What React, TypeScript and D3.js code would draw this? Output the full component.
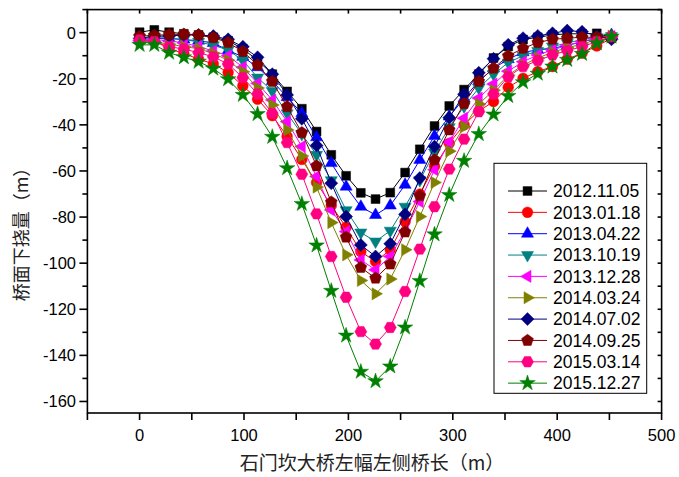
import React, { useEffect, useRef } from 'react';
import * as d3 from 'd3';

// chainage of the measuring points along the bridge (m)
const stations = [
  0, 14.1, 28.3, 42.4, 56.5, 70.6, 84.8, 98.9, 113, 127.1, 141.3, 155.4, 169.5, 183.6, 197.8, 211.9,
  226, 240.1, 254.3, 268.4, 282.5, 296.6, 310.8, 324.9, 339, 353.1, 367.3, 381.4, 395.5, 409.6, 423.8,
  437.9, 452,
];

const s20121105 = [
  0.2, 1.2, 0.2, -0.5, -1, -2, -3.5, -7, -12, -18, -25.5, -33, -42.9, -53, -62.1, -69.5, -72.2, -69.4,
  -60.7, -50.6, -40.5, -31.8, -24.7, -18, -11, -6, -3, -2, -1, -0.5, -0.5, -0.3, -2,
];
const s20130118 = [
  -3.5, -3.5, -7, -9, -11.5, -13.5, -17.3, -23.1, -28.9, -36, -45, -55, -65, -75, -84.4, -95, -99.3,
  -94.2, -82, -70, -58, -48, -40, -34, -29.9, -23.7, -19.8, -16.9, -14.7, -11.5, -8.9, -5.8, -2.5,
];
const s20130422 = [
  -3, -2.5, -2.5, -3, -3.5, -4.5, -7.7, -10.5, -15, -21, -28, -35, -45.4, -56.6, -66.8, -75.5, -79.1,
  -75, -66, -55.2, -44.8, -36.4, -28.5, -21, -15.5, -11.5, -8.5, -7.5, -6.8, -5.5, -4, -2.5, -1,
];
const s20131019 = [
  -2.5, -2, -2.5, -3, -4, -5.5, -7.5, -12, -19.5, -25.3, -35, -44, -53, -64, -77, -86.7, -90.6, -85.9,
  -75.5, -64, -52, -41, -32, -24, -18, -13, -10, -8, -6, -4.5, -3, -2, -1.5,
];
const s20131228 = [
  -3.5, -3, -3.5, -4.5, -6, -8, -10, -15, -22, -29.2, -38.6, -49.4, -62.4, -76.9, -86.3, -98.6, -102.9,
  -97.1, -86, -73.3, -59.5, -47.5, -37.1, -28.4, -22.3, -16.7, -12.6, -9.7, -7.5, -5.5, -3.8, -2.5, -1.7,
];
const s20140324 = [
  -4, -4, -5, -6, -7, -9, -12, -17, -24, -31.4, -42.2, -53.5, -67, -82.4, -96.4, -107.5, -113.3,
  -106.9, -94.2, -79.8, -65, -51.4, -40.8, -31, -25, -18.5, -14, -11, -8.5, -6.5, -5, -3, -1.5,
];
const s20140702 = [
  -2.5, -1.5, -1.5, -1, -1, -1.5, -2.9, -6.1, -10.7, -18, -27, -37.4, -49, -65.3, -79.8, -92.1, -97.1,
  -91.6, -78.8, -63.1, -49.4, -36.9, -26.7, -17.4, -11.3, -5.3, -2.4, -1.4, -0.3, 0.9, 0.4, -1.4, -2.9,
];
const s20140925 = [
  -1.5, -1.2, -0.8, -0.7, -1, -2.2, -4.3, -8.2, -14, -21.2, -32.1, -43.4, -57.8, -73.5, -88.7, -101.9,
  -106.5, -100.4, -86.5, -70.8, -55.2, -42.2, -30.8, -21.2, -15.4, -10.1, -6.8, -4.3, -2.9, -2.4, -2,
  -2, -2,
];
const s20150314 = [
  -3.2, -3.9, -6.1, -7.1, -8.7, -10.5, -13.6, -19.5, -26.6, -35, -47.7, -61.4, -78.6, -97.1, -114.8,
  -129.7, -135.1, -127.9, -112.3, -93.9, -75.5, -59.2, -46.2, -34.3, -26.6, -19.1, -14.7, -12.1, -9.7,
  -7.8, -6.1, -3.9, -1.7,
];
const s20151227 = [
  -5.3, -5.3, -8.7, -10.7, -12.6, -15.6, -20.2, -27, -35.3, -45.2, -58.8, -74.3, -92.3, -112, -131.4,
  -147.1, -151.2, -144.8, -127.9, -107.7, -87.5, -70.4, -55.6, -44, -35.5, -27.5, -21.5, -17.8, -14.7,
  -11.8, -9.2, -4.6, -1.7,
];

const xTicks = [0, 100, 200, 300, 400, 500];
const yTicks = [0, -20, -40, -60, -80, -100, -120, -140, -160];

const series = [
  { name: '2012.11.05', color: '#000000', symbol: 'square', values: s20121105 },
  { name: '2013.01.18', color: '#ff0000', symbol: 'circle', values: s20130118 },
  { name: '2013.04.22', color: '#0000ff', symbol: 'up', values: s20130422 },
  { name: '2013.10.19', color: '#008080', symbol: 'down', values: s20131019 },
  { name: '2013.12.28', color: '#ff00ff', symbol: 'left', values: s20131228 },
  { name: '2014.03.24', color: '#808000', symbol: 'right', values: s20140324 },
  { name: '2014.07.02', color: '#000080', symbol: 'diamond', values: s20140702 },
  { name: '2014.09.25', color: '#800000', symbol: 'pentagon', values: s20140925 },
  { name: '2015.03.14', color: '#ff0080', symbol: 'hexagon', values: s20150314 },
  { name: '2015.12.27', color: '#008000', symbol: 'star', values: s20151227 },
];

const polygon = (n: number, r: number, start: number) => {
  const pts = d3.range(n).map((k) => {
    const a = start + (k * 2 * Math.PI) / n;
    return [r * Math.cos(a), r * Math.sin(a)];
  });
  return 'M' + pts.map((p) => p.join(',')).join('L') + 'Z';
};

const markerPath = (type: string) => {
  switch (type) {
    case 'square':
      return d3.symbol(d3.symbolSquare, 78)() as string;
    case 'circle':
      return d3.symbol(d3.symbolCircle, 90)() as string;
    case 'up':
      return polygon(3, 7, -Math.PI / 2);
    case 'down':
      return polygon(3, 7, Math.PI / 2);
    case 'left':
      return polygon(3, 7, Math.PI);
    case 'right':
      return polygon(3, 7, 0);
    case 'diamond':
      return polygon(4, 6.5, -Math.PI / 2);
    case 'pentagon':
      return polygon(5, 6.2, -Math.PI / 2);
    case 'hexagon':
      return polygon(6, 6, 0);
    default:
      return d3.symbol(d3.symbolStar, 75)() as string;
  }
};

const FONT = "'Liberation Sans', Arial, sans-serif";
const CJK = "'Noto Sans CJK SC', sans-serif";

export default function App() {
  const svgRef = useRef<SVGSVGElement>(null);

  useEffect(() => {
    if (!svgRef.current) return;
    const svg = d3.select(svgRef.current);
    svg.selectAll('*').remove();

    const x = d3.scaleLinear().domain([-50, 500]).range([87.4, 661.6]);
    const y = d3.scaleLinear().domain([-165, 10]).range([413, 9.6]);
    const [x0, x1] = x.range();
    const [y0, y1] = y.range();

    // series lines + markers
    const line = d3
      .line<number>()
      .x((_, i) => x(stations[i]))
      .y((d) => y(d));

    series.forEach((s) => {
      const g = svg.append('g');
      g.append('path')
        .attr('d', line(s.values) as string)
        .attr('fill', 'none')
        .attr('stroke', s.color)
        .attr('stroke-width', 1);
      g.selectAll('path.m')
        .data(s.values)
        .enter()
        .append('path')
        .attr('class', 'm')
        .attr('d', markerPath(s.symbol))
        .attr('transform', (d, i) => `translate(${x(stations[i])},${y(d)})`)
        .attr('fill', s.color)
        .attr('stroke', s.color)
        .attr('stroke-width', 0.5);
    });

    // frame
    const axis = svg.append('g').attr('stroke', '#000').attr('stroke-width', 1.6);
    axis.append('rect')
      .attr('x', x0)
      .attr('y', y1)
      .attr('width', x1 - x0)
      .attr('height', y0 - y1)
      .attr('fill', 'none');

    // bottom + top ticks every 50
    d3.range(-50, 501, 50).forEach((v) => {
      axis.append('line').attr('x1', x(v)).attr('x2', x(v)).attr('y1', y0).attr('y2', y0 + 7);
      axis.append('line').attr('x1', x(v)).attr('x2', x(v)).attr('y1', y1).attr('y2', y1 + 4);
    });
    // left + right ticks every 10
    d3.range(-160, 11, 10).forEach((v) => {
      const major = v % 20 === 0;
      axis.append('line').attr('x1', x0).attr('x2', x0 - (major ? 8 : 5)).attr('y1', y(v)).attr('y2', y(v));
      axis.append('line').attr('x1', x1).attr('x2', x1 - 4).attr('y1', y(v)).attr('y2', y(v));
    });

    svg.append('g')
      .selectAll('text')
      .data(xTicks)
      .enter()
      .append('text')
      .attr('x', (d) => x(d))
      .attr('y', 441)
      .attr('text-anchor', 'middle')
      .style('font-family', FONT)
      .style('font-size', '16.5px')
      .text((d) => d);

    svg.append('g')
      .selectAll('text')
      .data(yTicks)
      .enter()
      .append('text')
      .attr('x', 76)
      .attr('y', (d) => y(d) + 6)
      .attr('text-anchor', 'end')
      .style('font-family', FONT)
      .style('font-size', '16.5px')
      .text((d) => d);

    // axis titles
    svg.append('text')
      .attr('x', 372)
      .attr('y', 470)
      .attr('text-anchor', 'middle')
      .style('font-family', CJK)
      .style('font-size', '19px')
      .attr('fill', '#222')
      .text('石门坎大桥左幅左侧桥长（m）');

    svg.append('text')
      .attr('transform', 'translate(28,230) rotate(-90)')
      .attr('text-anchor', 'middle')
      .style('font-family', CJK)
      .style('font-size', '18px')
      .attr('fill', '#222')
      .text('桥面下挠量（m）');

    // legend
    const lg = svg.append('g');
    lg.append('rect')
      .attr('x', 494)
      .attr('y', 163.3)
      .attr('width', 152.7)
      .attr('height', 230)
      .attr('fill', '#fff')
      .attr('stroke', '#000')
      .attr('stroke-width', 1);
    series.forEach((s, k) => {
      const ly = 191 + k * 21.35;
      lg.append('line')
        .attr('x1', 508)
        .attr('x2', 547)
        .attr('y1', ly)
        .attr('y2', ly)
        .attr('stroke', s.color)
        .attr('stroke-width', 1);
      lg.append('path')
        .attr('d', markerPath(s.symbol))
        .attr('transform', `translate(527.5,${ly})`)
        .attr('fill', s.color)
        .attr('stroke', s.color)
        .attr('stroke-width', 0.5);
      lg.append('text')
        .attr('x', 553)
        .attr('y', ly + 6.3)
        .style('font-family', FONT)
        .style('font-size', '17.5px')
        .text(s.name);
    });

    return () => {
      svg.selectAll('*').remove();
    };
  }, []);

  return (
    <svg
      ref={svgRef}
      width={679}
      height={477}
      style={{ position: 'absolute', left: 0, top: 0, background: '#fff' }}
    />
  );
}
